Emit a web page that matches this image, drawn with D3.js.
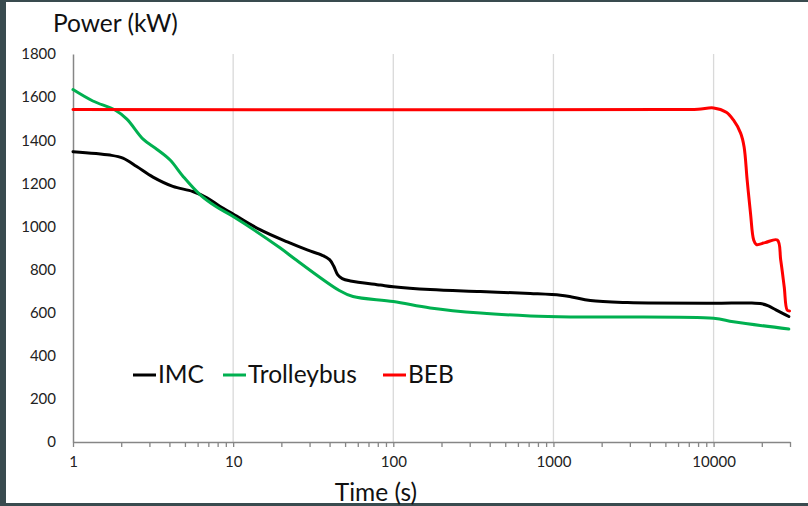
<!DOCTYPE html>
<html><head><meta charset="utf-8">
<script src="https://cdn.jsdelivr.net/npm/d3@7"></script>
<style>html,body{margin:0;padding:0;background:#394b4f;} svg{display:block}</style>
</head><body>
<svg id="c" width="808" height="506"></svg>
<script>
// ---- data ----
const xTickLabels = [1, 10, 100, 1000, 10000];
const yTickLabels = [0, 200, 400, 600, 800, 1000, 1200, 1400, 1600, 1800];
const seriesNames = ["IMC", "Trolleybus", "BEB"];
const seriesColors = ["#000000", "#00b050", "#ff0000"];

const imcTime  = [1, 1.7, 2.05, 2.5, 3.16, 4.2, 5.6, 6.9, 8.3, 10, 14.7, 21.8, 29, 36, 40, 42.5, 45, 48, 54, 83, 100, 170, 350, 718, 1106, 1300, 1700, 2900, 10000, 17000, 20000, 22000, 24500, 27000, 29500];
const imcPower = [1347, 1331, 1317, 1278, 1229, 1186, 1162, 1132, 1092, 1058, 985, 928, 891, 866, 846, 815, 775, 758, 747, 728, 720, 707, 698, 689, 681, 673, 656, 647, 644, 645, 641, 631, 613, 597, 582];

const trolTime  = [1, 1.33, 1.83, 2.17, 2.74, 3.35, 4.04, 4.87, 6.2, 7.9, 10, 19.7, 23.7, 46, 56, 100, 170, 350, 718, 1277, 10000, 13300, 29500];
const trolPower = [1635, 1582, 1540, 1498, 1405, 1357, 1308, 1232, 1148, 1090, 1046, 900, 855, 703, 675, 652, 622, 598, 585, 580, 574, 558, 524];

const bebTime  = [1, 5000, 8000, 10000, 12000, 13300, 14750, 15500, 16200, 17000, 17800, 18500, 21000, 25000, 26250, 27600, 28800, 29800];
const bebPower = [1542, 1542, 1544, 1550, 1530, 1494, 1433, 1370, 1216, 1062, 937, 916, 925, 937, 844, 720, 612, 608];

const seriesTime = [imcTime, trolTime, bebTime];
const seriesPower = [imcPower, trolPower, bebPower];

// ---- layout ----
const W = 808, H = 506;
const plotL = 73, plotR = 790, plotT = 54, plotB = 442;
const FONT = "Lato, 'Open Sans', sans-serif";

const svg = d3.select("#c");
svg.append("rect").attr("width", W).attr("height", H).attr("fill", "#394b4f");
svg.append("rect").attr("x", 6).attr("y", 2).attr("width", W - 6).attr("height", 501).attr("fill", "#ffffff");

const x = d3.scaleLog().domain([1, 30000]).range([plotL, plotR]);
const y = d3.scaleLinear().domain([0, 1800]).range([plotB, plotT]);

// vertical gridlines
svg.append("g").selectAll("line").data(xTickLabels.slice(1)).join("line")
  .attr("x1", d => x(d)).attr("x2", d => x(d))
  .attr("y1", plotT).attr("y2", plotB)
  .attr("stroke", "#d9d9d9").attr("stroke-width", 1.3);

// x axis with minor ticks
const allTicks = [];
for (const dec of xTickLabels) for (let m = 1; m <= 9; m++) { const v = dec * m; if (v <= 30000) allTicks.push(v); }
const xAxis = d3.axisBottom(x).tickValues(allTicks).tickSize(5).tickSizeOuter(0).tickPadding(9)
  .tickFormat(d => xTickLabels.includes(d) ? String(d) : "");
const gx = svg.append("g").attr("transform", `translate(0,${plotB})`).call(xAxis);
gx.select(".domain").attr("stroke", "#868686").attr("stroke-width", 1.5);
gx.selectAll(".tick line").attr("stroke", "#868686").attr("stroke-width", 1.3);
gx.selectAll(".tick text").attr("font-family", FONT).attr("font-size", 15).attr("fill", "#222");

// y axis
const yAxis = d3.axisLeft(y).tickValues(yTickLabels).tickFormat(d3.format("d")).tickSize(0).tickSizeOuter(0).tickPadding(17);
const gy = svg.append("g").attr("transform", `translate(${plotL},0)`).call(yAxis);
gy.select(".domain").attr("stroke", "#868686").attr("stroke-width", 1.5);
gy.selectAll(".tick text").attr("font-family", FONT).attr("font-size", 15).attr("fill", "#222");

// lines
const line = d3.line().x(d => x(d[0])).y(d => y(d[1])).curve(d3.curveCatmullRom.alpha(0.5));
seriesNames.forEach((name, i) => {
  const pts = seriesTime[i].map((t, j) => [t, seriesPower[i][j]]);
  svg.append("path").datum(pts).attr("d", line)
    .attr("fill", "none").attr("stroke", seriesColors[i]).attr("stroke-width", 3)
    .attr("stroke-linejoin", "round").attr("stroke-linecap", "round");
});

// titles
svg.append("text").attr("x", 53).attr("y", 32).text("Power (kW)")
  .attr("font-family", FONT).attr("font-size", 24.5).attr("fill", "#111");
svg.append("text").attr("x", 376).attr("y", 501).attr("text-anchor", "middle").text("Time (s)")
  .attr("font-family", FONT).attr("font-size", 24.5).attr("fill", "#111");

// legend
const legX = [133, 223, 383];
const lg = svg.append("g");
seriesNames.forEach((name, i) => {
  lg.append("line").attr("x1", legX[i]).attr("x2", legX[i] + 23).attr("y1", 375).attr("y2", 375)
    .attr("stroke", seriesColors[i]).attr("stroke-width", 3);
  lg.append("text").attr("x", legX[i] + 25).attr("y", 383).text(name)
    .attr("font-family", FONT).attr("font-size", 24.5).attr("fill", "#111");
});
</script>
</body></html>
